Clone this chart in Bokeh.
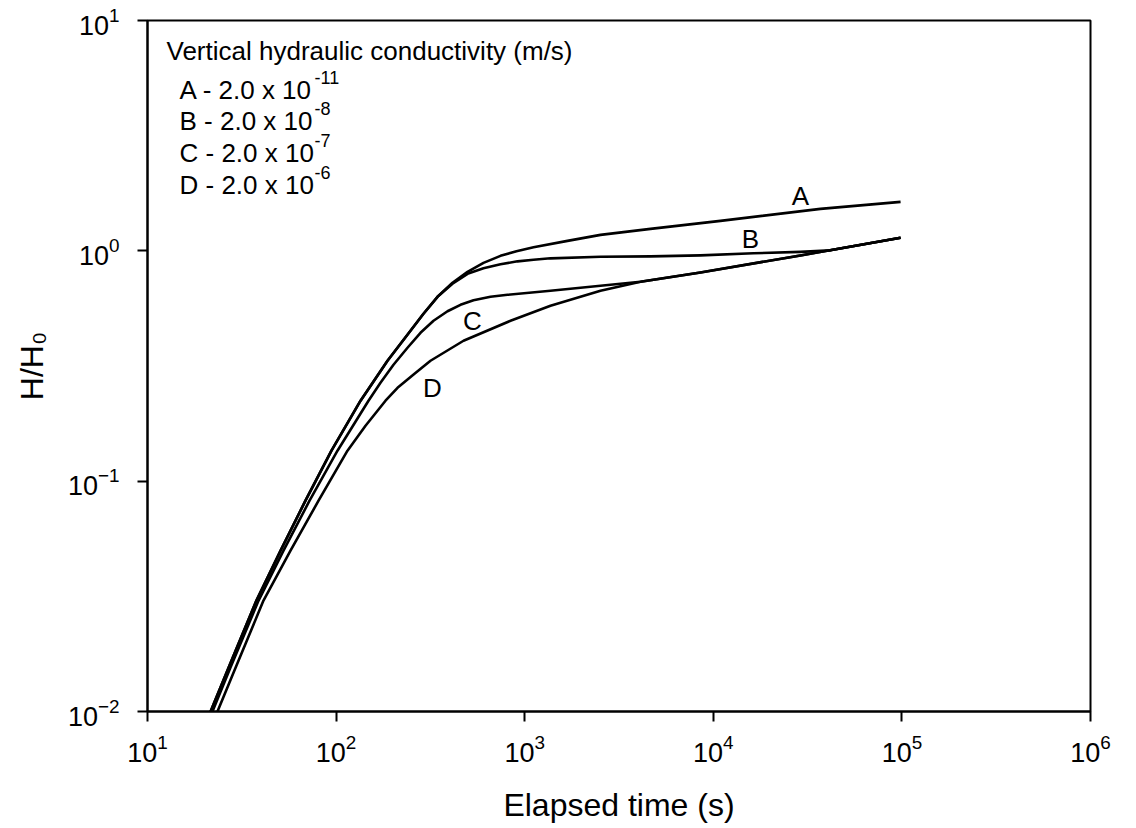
from bokeh.plotting import figure
from bokeh.models import Label, FixedTicker
from bokeh.embed import file_html
from bokeh.resources import INLINE

# ---------------- data ----------------
x_ticks = [1e1, 1e2, 1e3, 1e4, 1e5, 1e6]
y_ticks = [1e-2, 1e-1, 1e0, 1e1]

a_time = [21.6, 26.9, 37.8, 50.7, 68.8, 94.5, 134.8, 187.3, 248, 290.6, 344.9,
          414.2, 497.6, 604.6, 744.1, 904.5, 1114, 1686, 2523, 4645, 10914, 36980, 98400]
a_ratio = [0.0100, 0.0155, 0.0303, 0.0499, 0.0823, 0.1356, 0.2235, 0.3333, 0.4497, 0.5329, 0.6316,
           0.7264, 0.8108, 0.8870, 0.9512, 0.9950, 1.0356, 1.1049, 1.1733, 1.2459, 1.3496, 1.5212, 1.6316]

b_time = [21.6, 26.9, 37.8, 50.7, 68.8, 94.5, 134.8, 187.3, 248, 290.6, 344.9,
          414.2, 497.6, 604.6, 744.1, 915.8, 1114, 1370, 2523, 4645, 8551, 16330, 28970, 41780, 98400]
b_ratio = [0.0100, 0.0155, 0.0303, 0.0499, 0.0823, 0.1356, 0.2235, 0.3333, 0.4497, 0.5329, 0.6316,
           0.7194, 0.7948, 0.8394, 0.8737, 0.9003, 0.9140, 0.9278, 0.9419, 0.9465, 0.9560, 0.9754, 0.9901,
           1.0050, 1.1387]

c_time = [22.1, 27.5, 38.8, 52.6, 72.3, 101.7, 148.5, 171.9, 201.5, 239.1, 280.2, 328.5, 389.7,
          456.5, 535.2, 658.7, 810.8, 1370, 2523, 4111, 8551, 28970, 98400]
c_ratio = [0.0100, 0.0155, 0.0303, 0.0499, 0.0823, 0.1356, 0.2235, 0.2675, 0.3201, 0.3795, 0.4408, 0.4970,
           0.5465, 0.5829, 0.6098, 0.6316, 0.6442, 0.6705, 0.7048, 0.7337, 0.8058, 0.9551, 1.1387]

d_time = [23.5, 29.3, 41.2, 57.3, 80.7, 114.9, 143.2, 182.8, 211.7, 260.4, 316.6, 473.8, 841, 1370,
          2523, 4111, 8551, 28970, 98400]
d_ratio = [0.0100, 0.0155, 0.0303, 0.0499, 0.0823, 0.1356, 0.1741, 0.2235, 0.2544, 0.2927, 0.3333, 0.4070,
           0.4970, 0.5771, 0.6705, 0.7337, 0.8058, 0.9551, 1.1387]

curve_names = ["A", "B", "C", "D"]
curve_label_time = [28970, 15740, 528, 324]
curve_label_ratio = [1.733, 1.127, 0.497, 0.2544]

legend_title = "Vertical hydraulic conductivity (m/s)"
legend_rows = ["A - 2.0 x 10", "B - 2.0 x 10", "C - 2.0 x 10", "D - 2.0 x 10"]
legend_exps = ["-11", "-8", "-7", "-6"]

# ---------------- layout helpers ----------------
W, H = 1136, 828
FL, FR, FT, FB = 147, 1090, 20, 711
LX0, LX1 = 1, 6
LY0, LY1 = -2, 1
FONT = "Liberation Sans"


def px2x(px):
    return 10 ** (LX0 + (px - FL) / (FR - FL) * (LX1 - LX0))


def py2y(py):
    return 10 ** (LY1 - (py - FT) / (FB - FT) * (LY1 - LY0))


p = figure(width=W, height=H, x_axis_type="log", y_axis_type="log",
           x_range=(10 ** LX0, 10 ** LX1), y_range=(10 ** LY0, 10 ** LY1),
           output_backend="svg", toolbar_location=None,
           min_border_left=FL, min_border_right=W - FR,
           min_border_top=FT, min_border_bottom=H - FB)
p.background_fill_color = "white"
p.border_fill_color = "white"
p.outline_line_color = "black"
p.outline_line_width = 2
p.grid.visible = False

for ax, ticks in ((p.xaxis[0], x_ticks), (p.yaxis[0], y_ticks)):
    ax.ticker = FixedTicker(ticks=ticks, minor_ticks=[])
    ax.axis_line_color = "black"
    ax.axis_line_width = 2
    ax.major_tick_line_color = "black"
    ax.major_tick_line_width = 2
    ax.major_tick_out = 10
    ax.major_tick_in = 0
    ax.minor_tick_out = 0
    ax.minor_tick_in = 0
    ax.major_label_text_font = FONT
    ax.major_label_text_font_size = "27px"
    ax.major_label_text_color = "black"
    ax.axis_label_text_font = FONT
    ax.axis_label_text_font_size = "32px"
    ax.axis_label_text_font_style = "normal"
    ax.axis_label_text_color = "black"

p.xaxis.major_label_standoff = 12
p.yaxis.major_label_standoff = 18
p.xaxis.axis_label = "Elapsed time (s)"
p.xaxis.axis_label_standoff = 22
p.yaxis.axis_label = "H/H\u2080"
p.yaxis.axis_label_standoff = 15

for t, h in ((a_time, a_ratio), (b_time, b_ratio), (c_time, c_ratio), (d_time, d_ratio)):
    p.line(t, h, line_color="black", line_width=2.6, line_join="round")

for name, t, h in zip(curve_names, curve_label_time, curve_label_ratio):
    p.add_layout(Label(x=t, y=h, text=name, text_font=FONT, text_font_size="26px",
                       text_align="center", text_baseline="middle", text_color="black"))

# legend block (text inside plot)
p.add_layout(Label(x=px2x(166), y=py2y(50), text=legend_title, text_font=FONT,
                   text_font_size="26px", text_align="left", text_baseline="alphabetic",
                   text_color="black"))
row_base = [89, 120, 152, 184]
for row, e, b in zip(legend_rows, legend_exps, row_base):
    p.add_layout(Label(x=px2x(179), y=py2y(b), text=row, text_font=FONT,
                       text_font_size="26px", text_align="left", text_baseline="alphabetic",
                       text_color="black"))
    p.add_layout(Label(x=px2x(314), y=py2y(b - 12), text=e, text_font=FONT,
                       text_font_size="18px", text_align="left", text_baseline="alphabetic",
                       text_color="black"))

open("out.html", "w").write(file_html(p, INLINE))
